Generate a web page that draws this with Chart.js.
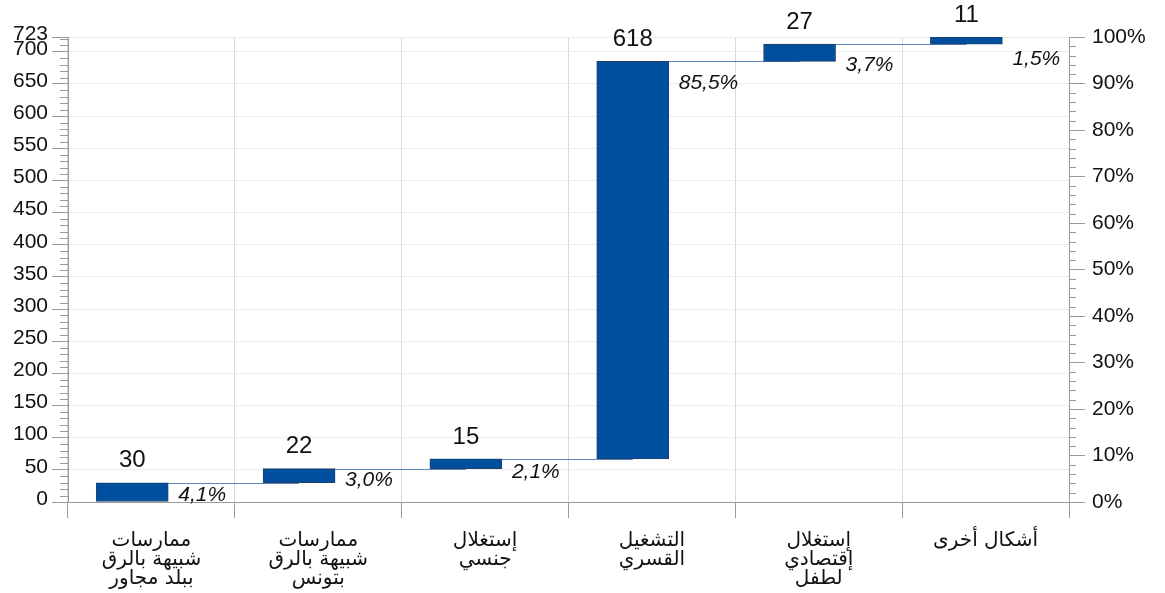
<!DOCTYPE html>
<html>
<head>
<meta charset="utf-8">
<script src="https://cdn.jsdelivr.net/npm/chart.js@4"></script>
<style>
  html, body { margin: 0; padding: 0; background: #fff; }
  #wrap { width: 1165px; height: 593px; }
</style>
</head>
<body>
<div id="wrap"><canvas id="waterfall" width="1165" height="593"></canvas></div>
<script>
const categories = [
    ["ممارسات", "شبيهة بالرق", "ببلد مجاور"],
    ["ممارسات", "شبيهة بالرق", "بتونس"],
    ["إستغلال", "جنسي"],
    ["التشغيل", "القسري"],
    ["إستغلال", "إقتصادي", "لطفل"],
    ["أشكال أخرى"]
]
const values = [30, 22, 15, 618, 27, 11]
const leftTicks = [0, 50, 100, 150, 200, 250, 300, 350, 400, 450, 500, 550, 600, 650, 700, 723]

let total = values.reduce(function (a, b) { return a + b; }, 0);

// running totals -> floating bars [start, end]
let starts = [];
let acc = 0;
values.forEach(v => { starts.push(acc); acc += v; });

let percentLabels = values.map(v => (v / total * 100).toFixed(1).replace(".", ",") + "%");

const barShift = 0.385; // bars sit left of the slot centre

let barData = values.map((v, i) => ({ x: i + barShift, y: [starts[i], starts[i] + v] }));

const pctDy = [12, 12, 13, 22, 21, 22];

const waterfallExtras = {
    id: "waterfallExtras",
    beforeDatasetsDraw(chart) {
        const ctx = chart.ctx;
        const bars = chart.getDatasetMeta(0).data;
        const y = chart.scales.y;
        ctx.save();
        ctx.strokeStyle = "#5b86c0";
        ctx.lineWidth = 1;
        for (let i = 0; i < bars.length - 1; i++) {
            let py = Math.round(y.getPixelForValue(starts[i] + values[i])) + 0.5;
            ctx.beginPath();
            ctx.moveTo(bars[i].x, py);
            ctx.lineTo(bars[i + 1].x, py);
            ctx.stroke();
        }
        ctx.restore();
    },
    afterDatasetsDraw(chart) {
        const ctx = chart.ctx;
        const bars = chart.getDatasetMeta(0).data;
        ctx.save();
        bars.forEach((b, i) => {
            let top = Math.min(b.y, b.base);
            ctx.fillStyle = "#111";
            ctx.font = "24px 'Liberation Sans', Arial, sans-serif";
            ctx.textAlign = "center";
            ctx.textBaseline = "middle";
            ctx.fillText(String(values[i]), b.x, top - 22);
            ctx.font = "italic 21px 'Liberation Sans', Arial, sans-serif";
            ctx.textAlign = "left";
            ctx.fillText(percentLabels[i], b.x + b.width / 2 + 10, top + pctDy[i]);
        });
        ctx.restore();
    },
    afterDraw(chart) {
        // minor tick marks on both value axes
        const ctx = chart.ctx;
        const y = chart.scales.y;
        const y2 = chart.scales.y2;
        const area = chart.chartArea;
        ctx.save();
        ctx.strokeStyle = "#9a9a9a";
        ctx.lineWidth = 1;
        for (let v = 10; v < total; v += 10) {
            if (v % 50 === 0) continue;
            let py = Math.round(y.getPixelForValue(v)) + 0.5;
            ctx.beginPath();
            ctx.moveTo(area.left - 8, py);
            ctx.lineTo(area.left, py);
            ctx.stroke();
        }
        for (let p = 2; p < 100; p += 2) {
            if (p % 10 === 0) continue;
            let py = Math.round(y2.getPixelForValue(p)) + 0.5;
            ctx.beginPath();
            ctx.moveTo(area.right, py);
            ctx.lineTo(area.right + 7, py);
            ctx.stroke();
        }
        ctx.restore();
    }
};

const tickFont = { family: "'Liberation Sans', Arial, sans-serif", size: 21 };

let chart = new Chart(document.getElementById("waterfall"), {
    type: "bar",
    data: {
        datasets: [{
            label: "values",
            data: barData,
            xAxisID: "xb",
            yAxisID: "y",
            backgroundColor: "#004f9e",
            borderColor: "#23406b",
            borderWidth: 1,
            borderSkipped: false,
            barThickness: 72,
            grouped: false
        }]
    },
    options: {
        responsive: false,
        animation: false,
        layout: { padding: { top: 37, left: 0, right: 0, bottom: 0 } },
        plugins: { legend: { display: false }, tooltip: { enabled: false } },
        scales: {
            x: {
                type: "category",
                labels: categories,
                offset: true,
                position: "bottom",
                grid: { offset: true, color: "#d9d9d9", tickLength: 16, tickColor: "#9a9a9a" },
                border: { color: "#9a9a9a" },
                ticks: {
                    color: "#111",
                    font: { family: "'DejaVu Sans', sans-serif", size: 20, lineHeight: 0.95 },
                    padding: 13,
                    maxRotation: 0,
                    autoSkip: false
                },
                afterFit(s) { s.height = 91; }
            },
            xb: {
                type: "linear",
                min: 0,
                max: categories.length,
                offset: false,
                display: false
            },
            y: {
                type: "linear",
                position: "left",
                min: 0,
                max: total,
                afterBuildTicks(s) { s.ticks = leftTicks.map(v => ({ value: v })); },
                grid: { color: "#ececec", tickLength: 16, tickColor: "#9a9a9a" },
                border: { color: "#9a9a9a" },
                ticks: { color: "#111", font: tickFont, padding: 4, labelOffset: -3 },
                afterFit(s) { s.width = 68; }
            },
            y2: {
                type: "linear",
                position: "right",
                min: 0,
                max: 100,
                ticks: {
                    stepSize: 10,
                    color: "#111",
                    font: tickFont,
                    padding: 7,
                    callback: v => v + "%"
                },
                grid: { drawOnChartArea: false, tickLength: 16, tickColor: "#9a9a9a" },
                border: { color: "#9a9a9a" },
                afterFit(s) { s.width = 96; }
            }
        }
    },
    plugins: [waterfallExtras]
});
</script>
</body>
</html>
